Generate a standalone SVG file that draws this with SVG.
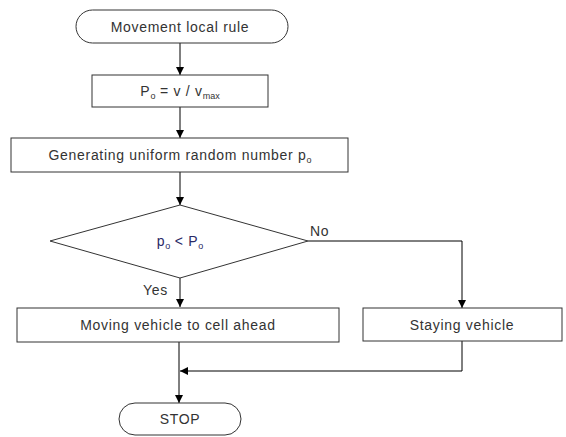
<svg xmlns="http://www.w3.org/2000/svg" width="566" height="437" viewBox="0 0 566 437">
  <style>
    .shape { fill: #ffffff; stroke: #333333; stroke-width: 1; }
    .line { fill: none; stroke: #000000; stroke-width: 1; }
    text { font-family: "Liberation Sans", Arial, sans-serif; font-size: 14px; letter-spacing: 0.7px; fill: #333333; }
    .c { text-anchor: middle; }
    .sub { font-size: 9px; letter-spacing: 0; }
    .cond { fill: #2a2a66; }
  </style>
  <defs>
    <marker id="arrow" viewBox="0 0 10 10" refX="10" refY="5" markerWidth="8" markerHeight="8" markerUnits="userSpaceOnUse" orient="auto">
      <path d="M0,0 L10,5 L0,10 z" fill="#000000"/>
    </marker>
  </defs>
  <rect width="566" height="437" fill="#ffffff"/>

  <g id="connectors">
    <line class="line" x1="180" y1="43" x2="180" y2="75" marker-end="url(#arrow)"/>
    <line class="line" x1="180" y1="107" x2="180" y2="138" marker-end="url(#arrow)"/>
    <line class="line" x1="180" y1="172" x2="180" y2="205" marker-end="url(#arrow)"/>
    <line class="line" x1="180" y1="278" x2="180" y2="307" marker-end="url(#arrow)"/>
    <polyline class="line" points="308,241 462,241 462,308" marker-end="url(#arrow)"/>
    <line class="line" x1="179" y1="342" x2="179" y2="403" marker-end="url(#arrow)"/>
    <polyline class="line" points="462,341 462,371 180,371" marker-end="url(#arrow)"/>
    <text x="310" y="236">No</text>
    <text x="143" y="295">Yes</text>
  </g>

  <g id="start">
    <rect class="shape" x="76" y="10" width="212" height="33" rx="16.5" ry="16.5"/>
    <text class="c" x="180" y="32">Movement local rule</text>
  </g>

  <g id="prob">
    <rect class="shape" x="92" y="75" width="176" height="32"/>
    <text class="c" x="180" y="96">P<tspan class="sub" dy="3">o</tspan><tspan dy="-3"> = v / v</tspan><tspan class="sub" dy="3">max</tspan></text>
  </g>

  <g id="random">
    <rect class="shape" x="11" y="138" width="337" height="34"/>
    <text class="c" x="180" y="160">Generating uniform random number p<tspan class="sub" dy="3">o</tspan></text>
  </g>

  <g id="decision">
    <polygon class="shape" points="180,205 308,241 180,278 50,241"/>
    <text class="c cond" x="180" y="246">p<tspan class="sub" dy="3">o</tspan><tspan dy="-3"> &lt; P</tspan><tspan class="sub" dy="3">o</tspan></text>
  </g>

  <g id="move">
    <rect class="shape" x="17" y="308" width="322" height="34"/>
    <text class="c" x="178" y="330">Moving vehicle to cell ahead</text>
  </g>

  <g id="stay">
    <rect class="shape" x="363" y="308" width="199" height="33"/>
    <text class="c" x="462" y="330">Staying vehicle</text>
  </g>

  <g id="stop">
    <rect class="shape" x="119" y="403" width="122" height="32" rx="16" ry="16"/>
    <text class="c" x="180" y="424">STOP</text>
  </g>
</svg>
